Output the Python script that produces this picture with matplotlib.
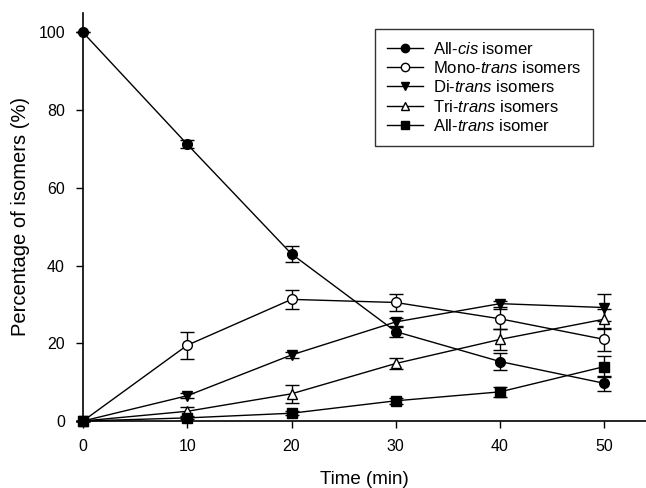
import matplotlib
matplotlib.use("Agg")
import matplotlib.pyplot as plt
from matplotlib.lines import Line2D

time = [0, 10, 20, 30, 40, 50]

all_cis = [100, 71.2, 43.0, 23.0, 15.3, 9.7]
all_cis_err = [0, 1.0, 2.0, 1.3, 2.3, 2.0]
mono_trans = [0, 19.5, 31.3, 30.5, 26.3, 21.0]
mono_trans_err = [0, 3.5, 2.5, 2.2, 2.5, 3.0]
di_trans = [0, 6.5, 17.0, 25.5, 30.2, 29.2]
di_trans_err = [0, 0.6, 0.8, 1.0, 0.8, 3.5]
tri_trans = [0, 2.5, 7.0, 14.8, 21.0, 26.2]
tri_trans_err = [0, 1.2, 2.3, 1.3, 2.6, 2.6]
all_trans = [0, 0.8, 2.0, 5.2, 7.5, 14.0]
all_trans_err = [0, 0.3, 0.5, 0.8, 1.3, 2.6]

plt.rcParams['font.family'] = ['Liberation Sans', 'DejaVu Sans']
plt.rcParams.update({'mathtext.fontset': 'custom',
                     'mathtext.it': 'Liberation Sans:italic',
                     'mathtext.rm': 'Liberation Sans'})

fig = plt.figure(figsize=(6.46, 4.88), dpi=100)
ax = fig.add_axes([83/646, 1 - 421/488, 1 - 83/646, (421 - 13)/488])

series = [
    (all_cis, all_cis_err, 'o', 'k', 'All-$\\it{cis}$ isomer'),
    (mono_trans, mono_trans_err, 'o', 'white', 'Mono-$\\it{trans}$ isomers'),
    (di_trans, di_trans_err, 'v', 'k', 'Di-$\\it{trans}$ isomers'),
    (tri_trans, tri_trans_err, '^', 'white', 'Tri-$\\it{trans}$ isomers'),
    (all_trans, all_trans_err, 's', 'k', 'All-$\\it{trans}$ isomer'),
]
handles = []
for vals, err, mk, fc, lab in series:
    ax.errorbar(time, vals, yerr=err, marker=mk, markersize=7, mfc=fc, mec='k',
                color='k', lw=1, elinewidth=1, capsize=5, capthick=1,
                clip_on=False)
    handles.append(Line2D([], [], color='k', lw=1, marker=mk, markersize=6,
                          mfc=fc, mec='k', label=lab))

ax.set_xlim(0, 54)
ax.set_ylim(0, 105)
ax.set_xticks([0, 10, 20, 30, 40, 50])
ax.set_yticks([0, 20, 40, 60, 80, 100])
ax.spines['top'].set_visible(False)
ax.spines['right'].set_visible(False)
ax.spines['left'].set_linewidth(1.2)
ax.spines['bottom'].set_linewidth(1.2)
ax.tick_params(direction='out', length=5, width=1, labelsize=11.5, pad=8)
ax.set_xlabel('Time (min)', fontsize=13.5, labelpad=12)
ax.set_ylabel('Percentage of isomers (%)', fontsize=14.5, labelpad=6)

leg = ax.legend(handles=handles, loc='upper left', bbox_to_anchor=(0.519, 0.961),
                borderaxespad=0, frameon=True, fancybox=False, edgecolor='k',
                fontsize=12, handlelength=2.15, borderpad=0.7, labelspacing=0.2,
                handletextpad=0.6)
leg.get_frame().set_linewidth(1)

fig.savefig('out.png', dpi=100)
